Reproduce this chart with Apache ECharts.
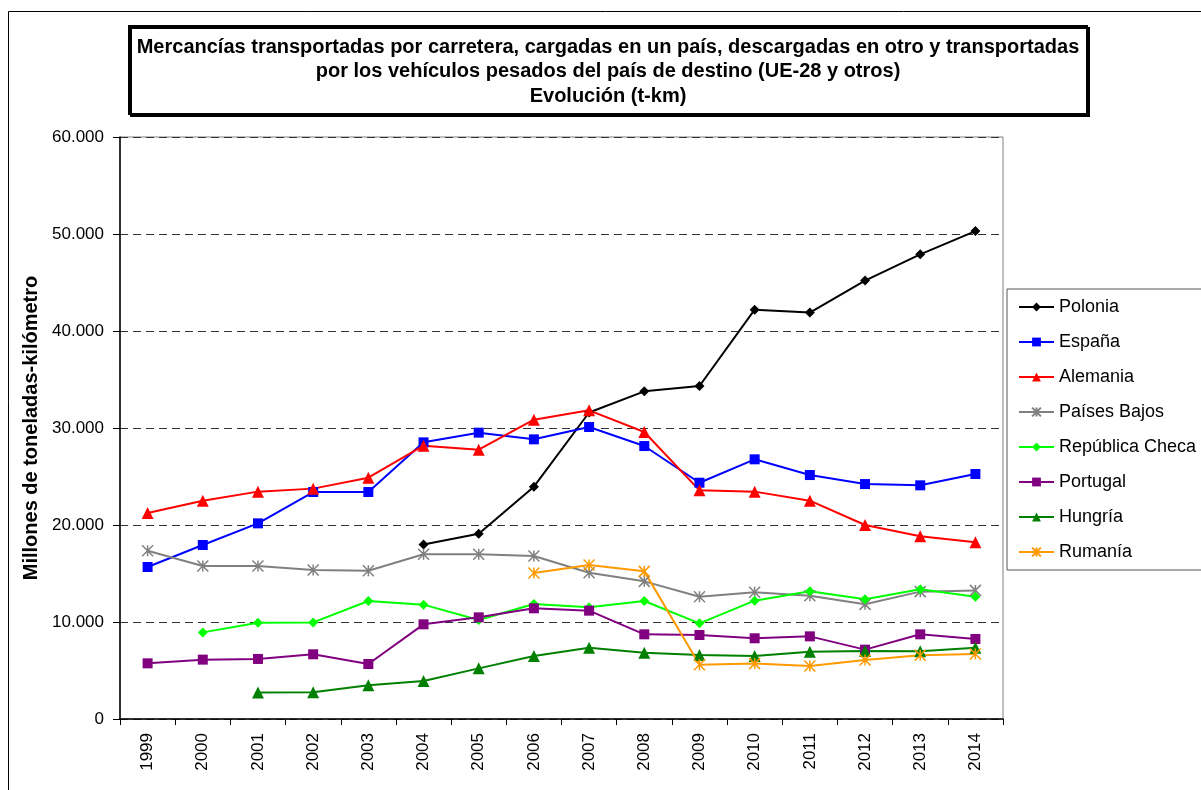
<!DOCTYPE html>
<html>
<head>
<meta charset="utf-8">
<script src="https://cdn.jsdelivr.net/npm/echarts@6/dist/echarts.min.js"></script>
<style>
  html, body { margin: 0; padding: 0; background: #fff; }
  #chart { width: 1201px; height: 790px; }
</style>
</head>
<body>
<div id="chart"></div>
<script>
const years = ['1999', '2000', '2001', '2002', '2003', '2004', '2005', '2006', '2007', '2008', '2009', '2010', '2011', '2012', '2013', '2014'];

const polonia = [null, null, null, null, null, 18000, 19100, 23950, 31600, 33780, 34330, 42200, 41900, 45200, 47900, 50300];
const espana = [15670, 17940, 20170, 23400, 23400, 28520, 29520, 28830, 30100, 28140, 24360, 26770, 25150, 24220, 24090, 25260];
const alemania = [21240, 22510, 23440, 23750, 24880, 28180, 27770, 30860, 31820, 29590, 23570, 23440, 22510, 20000, 18830, 18210];
const paisesBajos = [17350, 15770, 15770, 15360, 15290, 16980, 16980, 16800, 15080, 14190, 12610, 13060, 12710, 11820, 13130, 13260];
const republicaCheca = [null, 8930, 9930, 9960, 12160, 11790, 10210, 11860, 11510, 12160, 9860, 12200, 13160, 12340, 13370, 12610];
const portugal = [5740, 6120, 6190, 6670, 5670, 9760, 10480, 11410, 11170, 8730, 8660, 8320, 8520, 7150, 8730, 8250];
const hungria = [null, null, 2720, 2750, 3470, 3920, 5220, 6500, 7350, 6840, 6600, 6500, 6940, 7010, 6980, 7350];
const rumania = [null, null, null, null, null, null, null, 15050, 15880, 15220, 5600, 5710, 5470, 6080, 6570, 6700];

const yTicks = [0, 10000, 20000, 30000, 40000, 50000, 60000];

const font = 'Liberation Sans, Arial, sans-serif';
// asterisk marker like the Excel one (X plus a vertical bar)
const star = 'path://M0,0L10,10M10,0L0,10M5,0L5,10';

function line(name, data, color, symbol, size) {
  const isStar = symbol === star;
  return {
    name, type: 'line', data, symbol, symbolSize: size,
    showAllSymbol: true,
    lineStyle: { color, width: 2 },
    itemStyle: isStar
      ? { color: 'rgba(0,0,0,0)', borderColor: color, borderWidth: 1.5 }
      : { color },
    emphasis: { disabled: true },
    animation: false
  };
}

const chart = echarts.init(document.getElementById('chart'));
chart.setOption({
  backgroundColor: '#fff',
  textStyle: { fontFamily: font },
  graphic: [{
    type: 'rect', left: 6, top: 9, z: -10,
    shape: { width: 1400, height: 1000 },
    style: { fill: 'none', stroke: '#000', lineWidth: 1 }
  }],
  title: {
    text: 'Mercancías transportadas por carretera, cargadas en un país, descargadas en otro y transportadas\npor los vehículos pesados del país de destino (UE-28 y otros)\nEvolución (t-km)',
    left: 600, top: 26,
    textAlign: 'center',
    padding: [9, 8, 6, 8],
    borderColor: '#000', borderWidth: 2,
    backgroundColor: '#fff',
    shadowColor: '#000', shadowOffsetX: 2, shadowOffsetY: 2, shadowBlur: 0,
    textStyle: { fontFamily: font, fontSize: 20, fontWeight: 'bold', color: '#000', lineHeight: 24.5 }
  },
  legend: {
    orient: 'vertical', left: 1007, top: 289,
    padding: [8, 40, 8, 11],
    itemWidth: 35, itemHeight: 11, itemGap: 15,
    borderColor: '#555', borderWidth: 1,
    textStyle: { fontFamily: font, fontSize: 18, color: '#000', lineHeight: 20 }
  },
  grid: {
    left: 120, right: 198, top: 137, bottom: 71,
    show: true, borderColor: '#808080', borderWidth: 1
  },
  xAxis: {
    type: 'category', data: years, boundaryGap: true,
    axisLine: { lineStyle: { color: '#000', width: 1.5 } },
    axisTick: { show: true, length: 6, lineStyle: { color: '#000' } },
    axisLabel: { rotate: 90, fontSize: 17, color: '#000', margin: 14, fontFamily: font }
  },
  yAxis: {
    type: 'value', min: yTicks[0], max: yTicks[yTicks.length - 1], interval: 10000,
    name: 'Millones de toneladas-kilómetro',
    nameLocation: 'middle', nameGap: 75,
    nameTextStyle: { fontFamily: font, fontSize: 20, fontWeight: 'bold', color: '#000' },
    axisLine: { show: true, lineStyle: { color: '#000', width: 1.5 } },
    axisTick: { show: true, length: 7, lineStyle: { color: '#000' } },
    axisLabel: {
      fontSize: 17, color: '#000', margin: 16, fontFamily: font,
      formatter: v => v === 0 ? '0' : v.toLocaleString('de-DE')
    },
    splitLine: { show: true, lineStyle: { color: '#333', type: [8, 5], width: 1 } }
  },
  series: [
    line('Polonia', polonia, '#000000', 'diamond', 10),
    line('España', espana, '#0000FF', 'rect', 10),
    line('Alemania', alemania, '#FF0000', 'triangle', 12),
    line('Países Bajos', paisesBajos, '#808080', star, 11),
    line('República Checa', republicaCheca, '#00FF00', 'diamond', 10),
    line('Portugal', portugal, '#800080', 'rect', 10),
    line('Hungría', hungria, '#008000', 'triangle', 12),
    line('Rumanía', rumania, '#FF9900', star, 11)
  ]
});
</script>
</body>
</html>
